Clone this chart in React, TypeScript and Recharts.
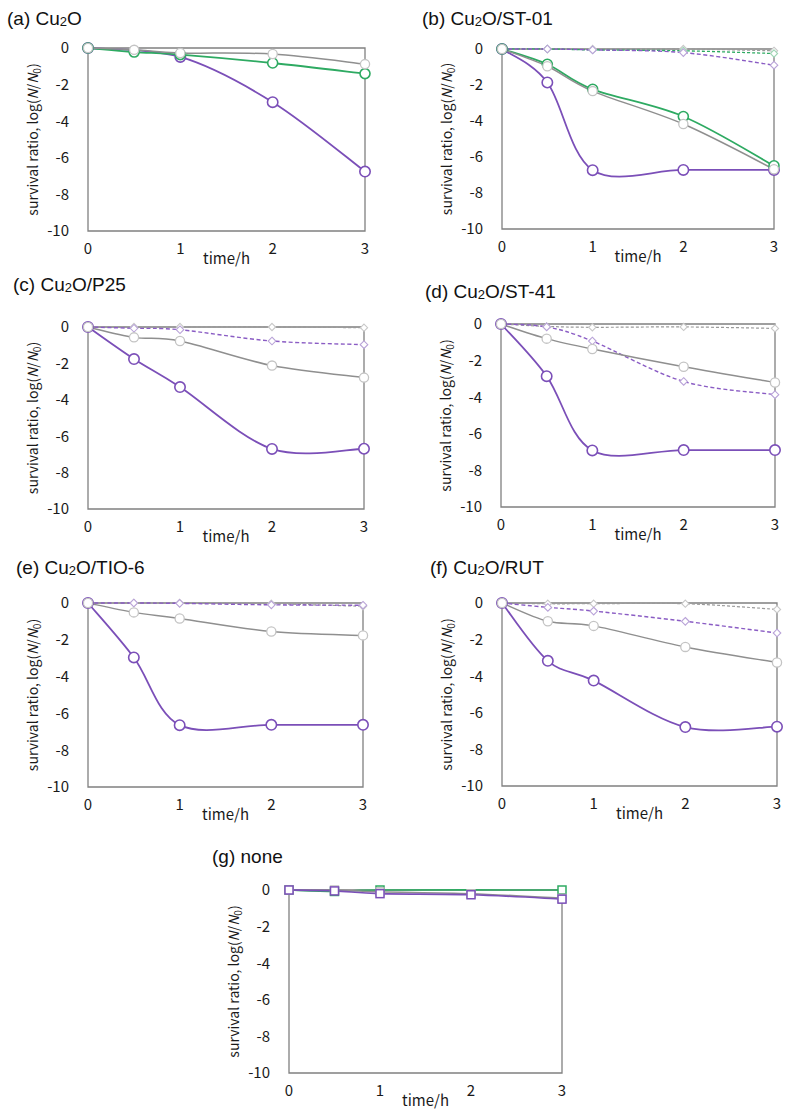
import React from 'react';
import { LineChart, Line, XAxis, YAxis, ReferenceArea } from 'recharts';

// sampling times (h)
const TIMES = [0, 0.5, 1, 2, 3];
const X_TICKS = [0, 1, 2, 3];
const Y_TICKS = [0, -2, -4, -6, -8, -10];

// (a) Cu2O
const aPurple = [0, null, -0.49, -2.96, -6.75];
const aGreen = [0, -0.22, -0.36, -0.82, -1.4];
const aGray = [0, -0.1, -0.27, -0.33, -0.88];

// (b) Cu2O/ST-01
const bPurple = [0, -1.86, -6.73, -6.72, -6.72];
const bGreen = [0, -0.85, -2.24, -3.75, -6.49];
const bGray = [0, -0.96, -2.34, -4.17, -6.68];
const bPurpleDash = [0, 0, -0.05, -0.2, -0.9];
const bGreenDash = [0, 0, -0.05, -0.1, -0.25];
const bGrayDash = [0, 0, 0, 0, -0.1];

// (c) Cu2O/P25
const cPurple = [0, -1.76, -3.3, -6.7, -6.69];
const cGray = [0, -0.57, -0.77, -2.12, -2.78];
const cPurpleDash = [0, -0.07, -0.15, -0.77, -0.97];
const cGrayDash = [0, 0, 0, 0, -0.04];

// (d) Cu2O/ST-41
const dPurple = [0, -2.85, -6.91, -6.89, -6.89];
const dGray = [0, -0.8, -1.37, -2.34, -3.2];
const dPurpleDash = [0, -0.16, -0.93, -3.14, -3.86];
const dGrayDash = [0, -0.13, -0.18, -0.16, -0.24];

// (e) Cu2O/TIO-6
const ePurple = [0, -2.96, -6.64, -6.62, -6.62];
const eGray = [0, -0.51, -0.84, -1.55, -1.76];
const ePurpleDash = [0, 0, -0.02, -0.1, -0.12];
const eGrayDash = [0, 0, 0, -0.04, -0.18];

// (f) Cu2O/RUT
const fPurple = [0, -3.16, -4.24, -6.78, -6.76];
const fGray = [0, -1.0, -1.25, -2.4, -3.25];
const fPurpleDash = [0, -0.24, -0.44, -1.0, -1.64];
const fGrayDash = [0, -0.04, -0.04, -0.04, -0.35];

// (g) none
const gPurple = [0, -0.05, -0.2, -0.26, -0.5];
const gGreen = [0, -0.08, 0, null, 0];
const gGray = [0, 0, -0.1, -0.2, -0.45];

const PURPLE = '#7b4fb8';
const GREEN = '#2eaa62';
const FRAME = '#808080';

type Kind =
  | 'purple' | 'green' | 'gray'
  | 'purpleDash' | 'greenDash' | 'grayDash'
  | 'purpleSq' | 'greenSq' | 'graySq';

interface SeriesStyle {
  stroke: string;
  width: number;
  dash?: string;
  marker: 'circle' | 'diamond' | 'square';
  r: number;
  markStroke: string;
  markWidth: number;
}

const STYLES: Record<Kind, SeriesStyle> = {
  purple: { stroke: PURPLE, width: 1.8, marker: 'circle', r: 5.2, markStroke: PURPLE, markWidth: 1.6 },
  green: { stroke: GREEN, width: 1.8, marker: 'circle', r: 5, markStroke: GREEN, markWidth: 1.6 },
  gray: { stroke: '#8f8f8f', width: 1.5, marker: 'circle', r: 4.6, markStroke: '#c4c4c4', markWidth: 1.3 },
  purpleDash: { stroke: '#8a5cc4', width: 1.4, dash: '4 2.5', marker: 'diamond', r: 3.8, markStroke: '#b9a3d8', markWidth: 1.1 },
  greenDash: { stroke: GREEN, width: 1.3, dash: '3 2', marker: 'diamond', r: 3.6, markStroke: '#9fd6b5', markWidth: 1.1 },
  grayDash: { stroke: '#9a9a9a', width: 1.2, dash: '3 2', marker: 'diamond', r: 3.6, markStroke: '#c8c8c8', markWidth: 1.1 },
  purpleSq: { stroke: PURPLE, width: 1.6, marker: 'square', r: 4, markStroke: PURPLE, markWidth: 1.5 },
  greenSq: { stroke: GREEN, width: 1.6, marker: 'square', r: 4, markStroke: GREEN, markWidth: 1.5 },
  graySq: { stroke: '#8f8f8f', width: 1.5, marker: 'square', r: 4, markStroke: '#b8b8b8', markWidth: 1.3 },
};

// Excel-like smoothed line (Catmull-Rom through the points)
const smoothCurve: any = (context: any) => {
  let pts: number[][] = [];
  return {
    areaStart() {},
    areaEnd() {},
    lineStart() { pts = []; },
    point(x: number, y: number) { pts.push([+x, +y]); },
    lineEnd() {
      const n = pts.length;
      if (!n) return;
      context.moveTo(pts[0][0], pts[0][1]);
      for (let i = 0; i < n - 1; i++) {
        const p0 = pts[i - 1] || pts[i];
        const p1 = pts[i];
        const p2 = pts[i + 1];
        const p3 = pts[i + 2] || p2;
        context.bezierCurveTo(
          p1[0] + (p2[0] - p0[0]) / 6, p1[1] + (p2[1] - p0[1]) / 6,
          p2[0] - (p3[0] - p1[0]) / 6, p2[1] - (p3[1] - p1[1]) / 6,
          p2[0], p2[1]
        );
      }
    },
  };
};

const makeDot = (st: SeriesStyle) => (props: any) => {
  const { cx, cy, index, value } = props;
  if (cx == null || cy == null || value == null || isNaN(cy)) return <g key={`d-${index}`} />;
  const r = st.r;
  const common = { fill: '#fff', stroke: st.markStroke, strokeWidth: st.markWidth };
  if (st.marker === 'circle') return <circle key={`d-${index}`} cx={cx} cy={cy} r={r} {...common} />;
  if (st.marker === 'square')
    return <rect key={`d-${index}`} x={cx - r} y={cy - r} width={r * 2} height={r * 2} {...common} />;
  return (
    <path key={`d-${index}`} d={`M${cx},${cy - r}L${cx + r},${cy}L${cx},${cy + r}L${cx - r},${cy}Z`} {...common} />
  );
};

const TICK_FONT = "'Noto Sans CJK JP', 'Noto Sans', sans-serif";
const tickStyle = { fontSize: 15, fill: '#1a1a1a', fontFamily: TICK_FONT };

const YAXIS_W = 100;
const TOP_PAD = 22;
const RIGHT_PAD = 15;
const XAXIS_H = 45;

const yLabel = (props: any) => {
  const vb = props.viewBox || {};
  const x = vb.x + vb.width - 50;
  const y = vb.y + vb.height / 2;
  return (
    <text
      x={x}
      y={y}
      transform={`rotate(-90 ${x} ${y})`}
      textAnchor="middle"
      fontSize={14}
      fontFamily={TICK_FONT}
      fill="#1a1a1a"
    >
      survival ratio, log(<tspan fontStyle="italic">N</tspan>/<tspan fontStyle="italic">N</tspan>
      <tspan fontSize={10} dy={3}>0</tspan>
      <tspan dy={-3}>)</tspan>
    </text>
  );
};

const xLabel = (props: any) => {
  const vb = props.viewBox || {};
  return (
    <text
      x={vb.x + vb.width / 2}
      y={vb.y + 33}
      textAnchor="middle"
      fontSize={15}
      fontFamily={TICK_FONT}
      fill="#1a1a1a"
    >
      time/h
    </text>
  );
};

interface PanelProps {
  letter: string;
  suffix: string;
  titleX: number;
  titleY: number;
  left: number;
  top: number;
  right: number;
  bottom: number;
  series: { data: (number | null)[]; kind: Kind }[];
}

function Panel({ letter, suffix, titleX, titleY, left, top, right, bottom, series }: PanelProps) {
  const plotW = right - left;
  const plotH = bottom - top;
  const rows = TIMES.map((t, i) => {
    const row: any = { t };
    series.forEach((s, j) => {
      row[`s${j}`] = s.data[i];
    });
    return row;
  });

  return (
    <>
      <div style={{ position: 'absolute', left: left - YAXIS_W, top: top - TOP_PAD }}>
        <LineChart
          width={plotW + YAXIS_W + RIGHT_PAD}
          height={plotH + TOP_PAD + XAXIS_H}
          data={rows}
          margin={{ top: TOP_PAD, right: RIGHT_PAD, bottom: 0, left: 0 }}
        >
          <XAxis
            dataKey="t"
            type="number"
            domain={[0, 3]}
            ticks={X_TICKS}
            axisLine={false}
            tickLine={false}
            tickSize={0}
            tickMargin={12}
            height={XAXIS_H}
            tick={tickStyle}
            interval={0}
            label={xLabel}
          />
          <YAxis
            type="number"
            domain={[-10, 0]}
            ticks={Y_TICKS}
            axisLine={false}
            tickLine={false}
            tickSize={0}
            tickMargin={19}
            width={YAXIS_W}
            tick={tickStyle}
            interval={0}
            label={yLabel}
          />
          <ReferenceArea x1={0} x2={3} y1={-10} y2={0} fill="none" stroke={FRAME} strokeWidth={1.3} fillOpacity={0} />
          {series.map((s, j) => {
            const st = STYLES[s.kind];
            return (
              <Line
                key={j}
                dataKey={`s${j}`}
                type={smoothCurve}
                stroke={st.stroke}
                strokeWidth={st.width}
                strokeDasharray={st.dash}
                dot={makeDot(st)}
                activeDot={false}
                connectNulls
                isAnimationActive={false}
              />
            );
          })}
        </LineChart>
      </div>
      <div
        style={{
          position: 'absolute',
          left: titleX,
          top: titleY - 11,
          fontFamily: "'Liberation Sans', Arial, sans-serif",
          fontSize: 19,
          lineHeight: '21px',
          color: '#111',
          whiteSpace: 'nowrap',
        }}
      >
        ({letter}) {letter === 'g' ? suffix : (
          <>
            Cu<span style={{ fontSize: 13, verticalAlign: -1 }}>2</span>O{suffix}
          </>
        )}
      </div>
    </>
  );
}

export default function App() {
  return (
    <div
      style={{
        position: 'absolute',
        left: 0,
        top: 0,
        width: 792,
        height: 1112,
        background: '#fff',
        overflow: 'hidden',
      }}
    >
      <Panel
        letter="a" suffix="" titleX={7} titleY={19}
        left={88} top={48} right={365} bottom={231}
        series={[
          { data: aPurple, kind: 'purple' },
          { data: aGreen, kind: 'green' },
          { data: aGray, kind: 'gray' },
        ]}
      />
      <Panel
        letter="b" suffix="/ST-01" titleX={422} titleY={19}
        left={502} top={49} right={774} bottom={229}
        series={[
          { data: bGrayDash, kind: 'grayDash' },
          { data: bGreenDash, kind: 'greenDash' },
          { data: bPurpleDash, kind: 'purpleDash' },
          { data: bPurple, kind: 'purple' },
          { data: bGreen, kind: 'green' },
          { data: bGray, kind: 'gray' },
        ]}
      />
      <Panel
        letter="c" suffix="/P25" titleX={13} titleY={285}
        left={88} top={327} right={364} bottom={509}
        series={[
          { data: cGrayDash, kind: 'grayDash' },
          { data: cPurpleDash, kind: 'purpleDash' },
          { data: cPurple, kind: 'purple' },
          { data: cGray, kind: 'gray' },
        ]}
      />
      <Panel
        letter="d" suffix="/ST-41" titleX={425} titleY={292}
        left={501} top={324} right={775} bottom={507}
        series={[
          { data: dGrayDash, kind: 'grayDash' },
          { data: dPurpleDash, kind: 'purpleDash' },
          { data: dPurple, kind: 'purple' },
          { data: dGray, kind: 'gray' },
        ]}
      />
      <Panel
        letter="e" suffix="/TIO-6" titleX={16} titleY={568}
        left={88} top={603} right={363} bottom={787}
        series={[
          { data: eGrayDash, kind: 'grayDash' },
          { data: ePurpleDash, kind: 'purpleDash' },
          { data: ePurple, kind: 'purple' },
          { data: eGray, kind: 'gray' },
        ]}
      />
      <Panel
        letter="f" suffix="/RUT" titleX={430} titleY={568}
        left={502} top={603} right={777} bottom={786}
        series={[
          { data: fGrayDash, kind: 'grayDash' },
          { data: fPurpleDash, kind: 'purpleDash' },
          { data: fPurple, kind: 'purple' },
          { data: fGray, kind: 'gray' },
        ]}
      />
      <Panel
        letter="g" suffix="none" titleX={212} titleY={857}
        left={289} top={890} right={562} bottom={1073}
        series={[
          { data: gGreen, kind: 'greenSq' },
          { data: gGray, kind: 'graySq' },
          { data: gPurple, kind: 'purpleSq' },
        ]}
      />
    </div>
  );
}
